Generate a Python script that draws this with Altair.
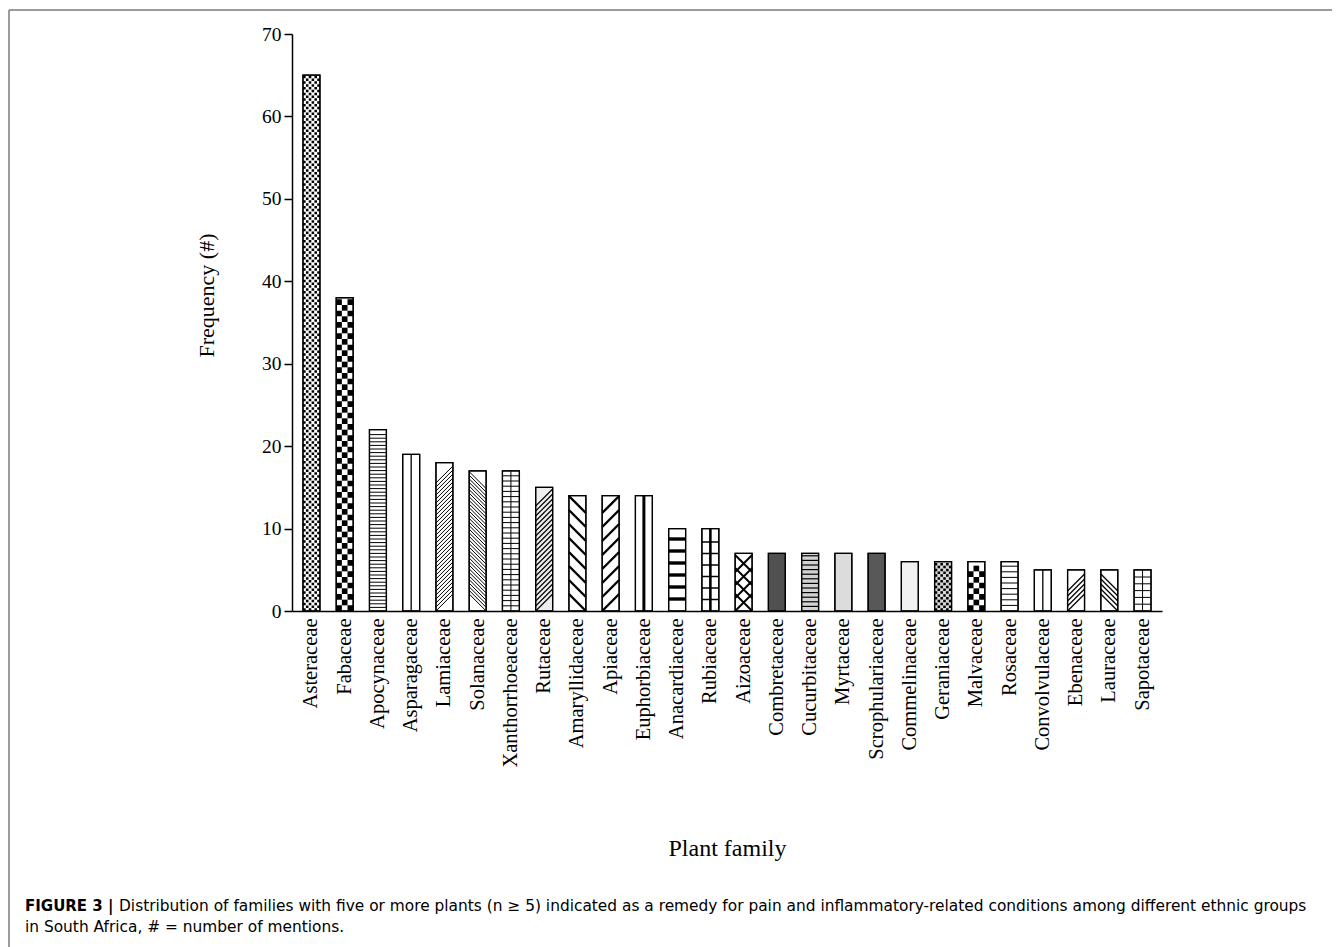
import altair as alt
import pandas as pd

families = ["Asteraceae", "Fabaceae", "Apocynaceae", "Asparagaceae", "Lamiaceae",
            "Solanaceae", "Xanthorrhoeaceae", "Rutaceae", "Amaryllidaceae", "Apiaceae",
            "Euphorbiaceae", "Anacardiaceae", "Rubiaceae", "Aizoaceae", "Combretaceae",
            "Cucurbitaceae", "Myrtaceae", "Scrophulariaceae", "Commelinaceae", "Geraniaceae",
            "Malvaceae", "Rosaceae", "Convolvulaceae", "Ebenaceae", "Lauraceae", "Sapotaceae"]
counts = [65, 38, 22, 19, 18, 17, 17, 15, 14, 14, 14, 10, 10, 7, 7, 7, 7, 7, 6, 6, 6, 6, 5, 5, 5, 5]

y_ticks = [0, 10, 20, 30, 40, 50, 60, 70]
caption_bold = "FIGURE 3 |"
caption_1 = ("Distribution of families with five or more plants (n \u2265 5) indicated as a remedy for pain "
             "and inflammatory-related conditions among different ethnic groups")
caption_2 = "in South Africa, # = number of mentions."

# ---- styles (pattern approximations, pixel units) ----
W, H = 870, 577
BAR_PX = 17
K = 70.0 / H  # data units per pixel
DEF = dict(bg="#ffffff", h=0, hw=1.0, v=0, f=0, fw=1.0, b=0, bw=1.0, ck=0, fk=0)
PATTERN = {
    "Asteraceae": dict(bg="#ffffff", fk=BAR_PX / 6),
    "Fabaceae": dict(ck=BAR_PX / 3),
    "Apocynaceae": dict(h=3.6, hw=1.0),
    "Asparagaceae": dict(v=1.3),
    "Lamiaceae": dict(f=4.0, fw=1.0),
    "Solanaceae": dict(b=3.6, bw=1.0),
    "Xanthorrhoeaceae": dict(h=5.2, hw=1.0, v=1.0),
    "Rutaceae": dict(bg="#eeeeee", f=5.0, fw=1.2),
    "Amaryllidaceae": dict(b=14.0, bw=2.4),
    "Apiaceae": dict(f=14.0, fw=2.4),
    "Euphorbiaceae": dict(v=3.0),
    "Anacardiaceae": dict(h=12.0, hw=3.4),
    "Rubiaceae": dict(h=11.5, hw=1.5, v=2.6),
    "Aizoaceae": dict(f=13.0, fw=2.0, b=13.0, bw=2.0),
    "Combretaceae": dict(bg="#505050"),
    "Cucurbitaceae": dict(bg="#d2d2d2", h=4.6, hw=1.2),
    "Myrtaceae": dict(bg="#dcdcdc"),
    "Scrophulariaceae": dict(bg="#585858"),
    "Commelinaceae": dict(bg="#f1f1f1"),
    "Geraniaceae": dict(bg="#d8d8d8", fk=BAR_PX / 6),
    "Malvaceae": dict(ck=BAR_PX / 3),
    "Rosaceae": dict(h=5.6, hw=1.0),
    "Convolvulaceae": dict(v=1.3),
    "Ebenaceae": dict(f=5.0, fw=1.2),
    "Lauraceae": dict(b=5.0, bw=1.2),
    "Sapotaceae": dict(h=6.8, hw=1.0, v=1.0),
}

rows = []
for fam, n in zip(families, counts):
    st = dict(DEF)
    st.update(PATTERN.get(fam, {}))
    rows.append(dict(family=fam, n=n, **st))
df = pd.DataFrame(rows)

SERIF = "Liberation Serif"
SANS = "DejaVu Sans"

X = alt.X("family:N", sort=families,
          scale=alt.Scale(paddingInner=0.49, paddingOuter=0.33),
          axis=alt.Axis(title="Plant family", titleFont=SERIF, titleFontSize=24,
                        titleFontWeight="normal", titleColor="black",
                        titleY=244, titleBaseline="alphabetic",
                        labelAngle=-90, labelFont=SERIF, labelFontSize=20.5,
                        labelColor="black", labelPadding=7, ticks=False,
                        domainColor="black", domainWidth=1.5, grid=False))
YAXIS = alt.Axis(title="Frequency (#)", titleFont=SERIF, titleFontSize=22,
                 titleFontWeight="normal", titleColor="black",
                 titleX=-79, titleY=261, titleAngle=-90, titleAlign="center",
                 titleBaseline="alphabetic",
                 values=y_ticks, labelFont=SERIF, labelFontSize=19.5, labelColor="black",
                 labelPadding=3, tickSize=8, tickWidth=1.5, tickColor="black",
                 domainColor="black", domainWidth=1.5, grid=False)
YSCALE = alt.Scale(domain=[0, 70], nice=False)


def Y(field):
    return alt.Y(field, scale=YSCALE, axis=YAXIS)


base = alt.Chart(df)

bars = base.mark_bar(stroke="black", strokeWidth=1.2).encode(
    x=X, y=Y("n:Q"), fill=alt.Fill("bg:N", scale=None))


def seq_layer(flag, expr, shape, filled, sw=None):
    ch = base.transform_filter(f"datum.{flag} > 0").transform_calculate(
        seq=expr).transform_flatten(["seq"])
    if filled:
        m = ch.mark_point(shape=shape, size=BAR_PX ** 2, filled=True, color="black",
                          strokeWidth=0, opacity=1)
        return m.encode(x=X, y=Y("seq:Q"))
    m = ch.mark_point(shape=shape, size=BAR_PX ** 2, filled=False, stroke="black", opacity=1)
    return m.encode(x=X, y=Y("seq:Q"), strokeWidth=alt.StrokeWidth(f"{sw}:Q", scale=None))


half = BAR_PX / 2 * K
hlines = seq_layer("h", f"sequence(datum.h*{K}, datum.n - datum.h*{K}*0.4, datum.h*{K})",
                   "M-1,0L1,0", False, "hw")
fdiag = seq_layer("f", f"sequence({half}, datum.n - {half} + 0.0001, datum.f*{K})",
                  "M-1,1L1,-1", False, "fw")
bdiag = seq_layer("b", f"sequence({half}, datum.n - {half} + 0.0001, datum.b*{K})",
                  "M-1,-1L1,1", False, "bw")
ck_even = seq_layer("ck", f"sequence(0.5*datum.ck*{K}, datum.n - 0.5*datum.ck*{K} + 0.0001, 2*datum.ck*{K})",
                    "M-1,-0.3333H-0.3333V0.3333H-1Z M0.3333,-0.3333H1V0.3333H0.3333Z", True)
ck_odd = seq_layer("ck", f"sequence(1.5*datum.ck*{K}, datum.n - 0.5*datum.ck*{K} + 0.0001, 2*datum.ck*{K})",
                   "M-0.3333,-0.3333H0.3333V0.3333H-0.3333Z", True)
q = 0.15  # half side of a fine square in unit coords
fk_even = seq_layer("fk", f"sequence(0.5*datum.fk*{K}, datum.n - 0.5*datum.fk*{K} + 0.0001, 2*datum.fk*{K})",
                    " ".join(f"M{c - q:.3f},{-q}H{c + q:.3f}V{q}H{c - q:.3f}Z" for c in (-0.8333, -0.1667, 0.5)),
                    True)
fk_odd = seq_layer("fk", f"sequence(1.5*datum.fk*{K}, datum.n - 0.5*datum.fk*{K} + 0.0001, 2*datum.fk*{K})",
                   " ".join(f"M{c - q:.3f},{-q}H{c + q:.3f}V{q}H{c - q:.3f}Z" for c in (-0.5, 0.1667, 0.8333)),
                   True)

vlines = base.transform_filter("datum.v > 0").transform_calculate(zero="0").mark_rule(
    stroke="black").encode(x=X, y=Y("n:Q"), y2="zero:Q",
                           strokeWidth=alt.StrokeWidth("v:Q", scale=None))

outline = base.mark_bar(fillOpacity=0, stroke="black", strokeWidth=1.3).encode(
    x=X, y=Y("n:Q"))

one = alt.Data(values=[{"a": 1}])
frame_top = alt.Chart(one).mark_rule(color="#7a7a7a", strokeWidth=1.5).encode(
    x=alt.value(-283), x2=alt.value(W + 170), y=alt.value(-24))
frame_left = alt.Chart(one).mark_rule(color="#7a7a7a", strokeWidth=1.5).encode(
    x=alt.value(-283), y=alt.value(-24), y2=alt.value(913))

cap_bold = alt.Chart(one).mark_text(
    text=caption_bold, font=SANS, fontSize=15.0, fontWeight="bold", align="left",
    baseline="alphabetic", color="black").encode(x=alt.value(-267), y=alt.value(877))
cap_1 = alt.Chart(one).mark_text(
    text=caption_1, font=SANS, fontSize=15.4, align="left",
    baseline="alphabetic", color="black").encode(x=alt.value(-173), y=alt.value(877))
cap_2 = alt.Chart(one).mark_text(
    text=caption_2, font=SANS, fontSize=15.4, align="left",
    baseline="alphabetic", color="black").encode(x=alt.value(-267), y=alt.value(898))

chart = alt.layer(
    bars, fk_even, fk_odd, hlines, vlines, fdiag, bdiag, ck_even, ck_odd, outline,
    frame_top, frame_left, cap_bold, cap_1, cap_2
).properties(
    width=W, height=H,
    autosize=alt.AutoSizeParams(type="none"),
    padding={"left": 284, "top": 26, "right": 170, "bottom": 336},
    background="white",
).configure_view(stroke=None)

chart.save("out.html", embed_options={"renderer": "svg", "actions": False})
